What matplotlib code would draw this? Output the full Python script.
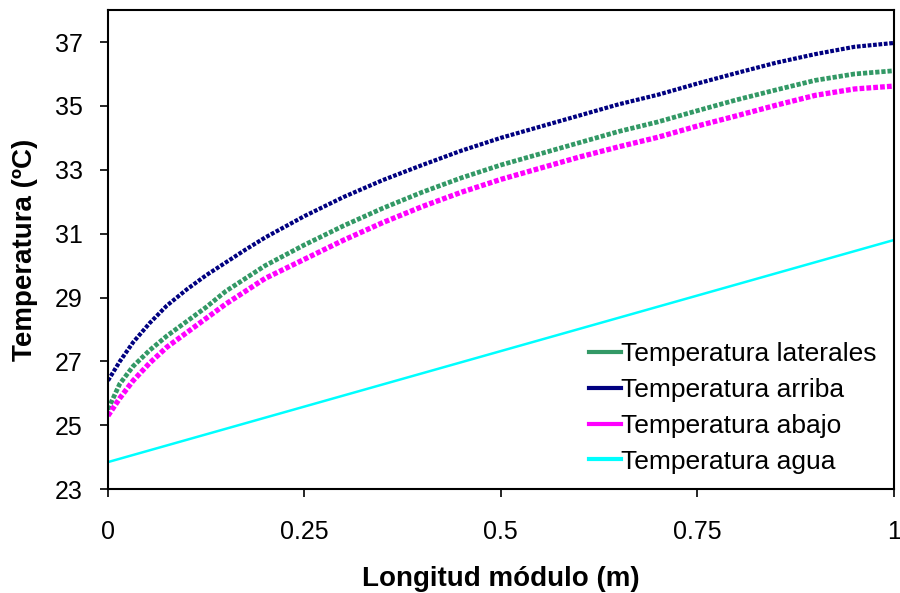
import matplotlib
matplotlib.use("Agg")
import matplotlib.pyplot as plt
from matplotlib.lines import Line2D

# Values
longitud = [0.0, 0.015, 0.032, 0.053, 0.075, 0.1, 0.125, 0.15, 0.175, 0.2,
            0.25, 0.3, 0.35, 0.4, 0.45, 0.5, 0.55, 0.6, 0.65, 0.7,
            0.75, 0.8, 0.85, 0.9, 0.95, 1.0]
temp_laterales = [25.5, 26.3, 26.85, 27.35, 27.8, 28.25, 28.7, 29.2, 29.6, 30.0,
                  30.65, 31.25, 31.8, 32.3, 32.75, 33.15, 33.5, 33.85, 34.2, 34.5,
                  34.85, 35.19, 35.5, 35.8, 36.0, 36.1]
temp_arriba = [26.4, 27.0, 27.6, 28.2, 28.75, 29.25, 29.7, 30.1, 30.5, 30.88,
               31.55, 32.15, 32.68, 33.15, 33.6, 34.0, 34.35, 34.7, 35.05, 35.35,
               35.7, 36.03, 36.35, 36.62, 36.85, 36.97]
temp_abajo = [25.3, 25.85, 26.4, 26.95, 27.45, 27.9, 28.35, 28.8, 29.2, 29.6,
              30.2, 30.8, 31.35, 31.85, 32.3, 32.7, 33.05, 33.4, 33.72, 34.02,
              34.37, 34.69, 35.02, 35.33, 35.53, 35.62]
longitud_agua = [0.0, 1.0]
temp_agua = [23.85, 30.8]

series = [
    ("Temperatura laterales", temp_laterales, "#339966", 3.4),
    ("Temperatura arriba", temp_arriba, "#000080", 3.0),
    ("Temperatura abajo", temp_abajo, "#FF00FF", 3.8),
]

plt.rcParams["font.family"] = ["Liberation Sans", "DejaVu Sans"]

fig = plt.figure(figsize=(9, 5.93), dpi=100)
ax = fig.add_axes([0.12, 0.175, 0.873, 0.808])

for name, temps, color, lw in series:
    ax.plot(longitud, temps, color=color, linewidth=lw,
            linestyle=(0, (0.9, 0.4)), dash_capstyle="butt")
ax.plot(longitud_agua, temp_agua, color="#00FFFF", linewidth=1.8)

ax.set_xlim(0, 1)
ax.set_ylim(23, 38)
ax.set_xticks([0, 0.25, 0.5, 0.75, 1])
ax.set_xticklabels(["0", "0.25", "0.5", "0.75", "1"])
ax.set_yticks([23, 25, 27, 29, 31, 33, 35, 37])
ax.tick_params(labelsize=18, length=6, width=1.2, direction="out")
ax.tick_params(axis="x", pad=16)
ax.tick_params(axis="y", pad=12)
for sp in ax.spines.values():
    sp.set_linewidth(1.5)

ax.set_xlabel("Longitud módulo (m)", fontsize=20, fontweight="bold", labelpad=16)
ax.set_ylabel("Temperatura (ºC)", fontsize=20, fontweight="bold", labelpad=12)

handles = [Line2D([], [], color=c, linewidth=3) for _, _, c, _ in series]
handles.append(Line2D([], [], color="#00FFFF", linewidth=3))
labels = [s[0] for s in series] + ["Temperatura agua"]
ax.legend(handles, labels, loc="lower right", bbox_to_anchor=(0.995, 0.005),
          frameon=False, fontsize=19, handlelength=1.2, handletextpad=0.0,
          labelspacing=0.45, borderpad=0.0)

fig.savefig("out.png", dpi=100)
